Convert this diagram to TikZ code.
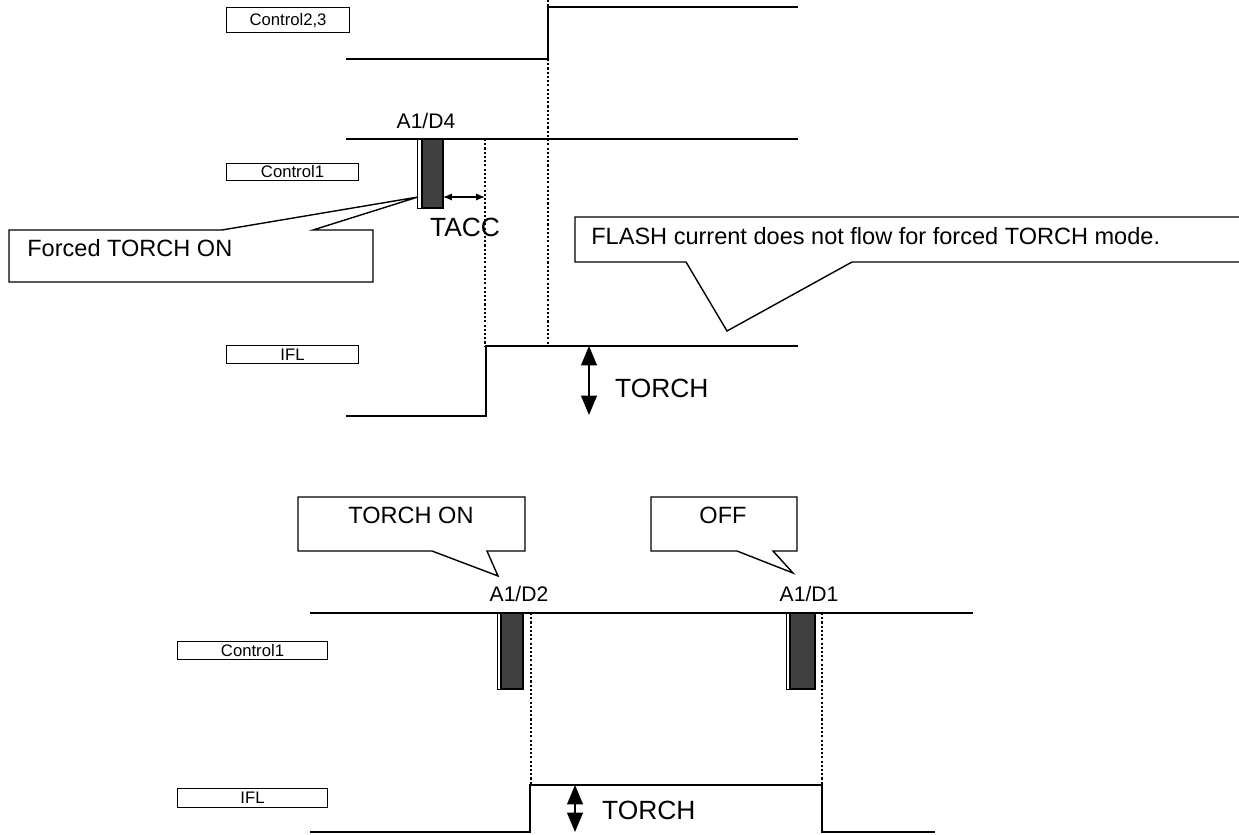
\documentclass[tikz,border=0pt]{standalone}
\usepackage{fontspec}
\setmainfont{Liberation Sans}
\usetikzlibrary{arrows.meta}
\definecolor{pulsegray}{RGB}{64,64,64}

\begin{document}
\begin{tikzpicture}[x=0.02cm,y=-0.02cm]
\tikzset{sig/.style={line width=1.1pt,line join=miter}}
\tikzset{guide/.style={line width=0.6pt,dash pattern=on 1.2pt off 1.2pt}}
\tikzset{signame/.style={draw,line width=0.6pt,inner sep=0pt,anchor=north west,font=\fontsize{9.5}{10}\selectfont}}
\tikzset{pulse/.style={draw,line width=0.6pt,fill=pulsegray}}
\tikzset{slit/.style={draw,line width=0.5pt,fill=white}}
\tikzset{balloon/.style={draw,line width=0.8pt,fill=white,line join=miter}}
\tikzset{note/.style={inner sep=0pt,font=\fontsize{13.4}{15}\selectfont}}
\tikzset{big/.style={font=\fontsize{15}{18}\selectfont}}
\tikzset{pinlabel/.style={font=\fontsize{12}{14}\selectfont}}
\tikzset{level/.style={{Triangle[length=11pt,width=9pt]}-{Triangle[length=11pt,width=9pt]},line width=0.8pt}}
\useasboundingbox (0,0) rectangle (1239,834);
% forced torch mode
\node[signame,minimum width=2.46cm,minimum height=0.5cm] (ctl23) at (226,7) {Control2,3};
\node[signame,minimum width=2.64cm,minimum height=0.34cm] (ctl1a) at (226,163) {Control1};
\node[signame,minimum width=2.64cm,minimum height=0.36cm] (ifla) at (226,345) {IFL};
\coordinate (g1top) at (548,0);
\coordinate (g1bot) at (548,346);
\coordinate (g2top) at (485,139);
\coordinate (g2bot) at (485,346);
\draw[guide] (g1top) -- (g1bot);
\draw[guide] (g2top) -- (g2bot);
\draw[sig] (346,59) -- (548,59) -- (548,7) -- (798,7);
\draw[sig] (346,139) -- (798,139);
\draw[slit] (417,139) rectangle (421,208);
\draw[pulse] (422,139) rectangle (443,208);
\node[pinlabel] (d4) at (426,121) {A1/D4};
\coordinate (tacca) at (443,197);
\draw[{Latex[length=5pt,width=4pt]}-{Latex[length=5pt,width=4pt]},line width=0.6pt] (tacca) -- (g2top |- tacca);
\node[big] (tacc) at (465,227) {TACC};
\draw[sig] (346,416) -- (486,416) -- (486,346) -- (798,346);
\coordinate (lva) at (589,346);
\coordinate (lvb) at (589,415);
\draw[level] (lva) -- (lvb);
\node[big,anchor=west] (torcha) at (609,388) {TORCH};
\draw[balloon] (9,230) -- (222,230) -- (418,197) -- (313,230) -- (373,230) -- (373,282) -- (9,282) -- cycle;
\node[note,anchor=west] (forced) at (27,248) {Forced TORCH ON};
\draw[balloon] (575,217) -- (1250,217) -- (1250,262) -- (852,262) -- (727,331) -- (686,262) -- (575,262) -- cycle;
\node[note,anchor=west] (flash) at (591,236) {FLASH current does not flow for forced TORCH mode.};
% torch on / off
\node[signame,minimum width=3cm,minimum height=0.36cm] (ctl1b) at (177,641) {Control1};
\node[signame,minimum width=3cm,minimum height=0.38cm] (iflb) at (177,788) {IFL};
\coordinate (g3top) at (531,613);
\coordinate (g3bot) at (531,785);
\coordinate (g4top) at (822,613);
\coordinate (g4bot) at (822,785);
\draw[guide] (g3top) -- (g3bot);
\draw[guide] (g4top) -- (g4bot);
\draw[sig] (310,613) -- (973,613);
\draw[slit] (497,613) rectangle (500,689);
\draw[pulse] (501,613) rectangle (523,689);
\draw[slit] (786,613) rectangle (789,689);
\draw[pulse] (790,613) rectangle (815,689);
\node[pinlabel] (d2) at (519,594) {A1/D2};
\node[pinlabel] (d1) at (809,594) {A1/D1};
\draw[sig] (310,832) -- (530,832) -- (530,785) -- (822,785) -- (822,832) -- (935,832);
\coordinate (lvc) at (575,785);
\coordinate (lvd) at (575,832);
\draw[level] (lvc) -- (lvd);
\node[big,anchor=west] (torchb) at (596,810) {TORCH};
\draw[balloon] (298,497) -- (525,497) -- (525,551) -- (487,551) -- (498,576) -- (432,551) -- (298,551) -- cycle;
\node[note] (on) at (411,515) {TORCH ON};
\draw[balloon] (651,497) -- (797,497) -- (797,551) -- (773,551) -- (793,573) -- (737,551) -- (651,551) -- cycle;
\node[note] (off) at (723,515) {OFF};
\end{tikzpicture}
\end{document}
